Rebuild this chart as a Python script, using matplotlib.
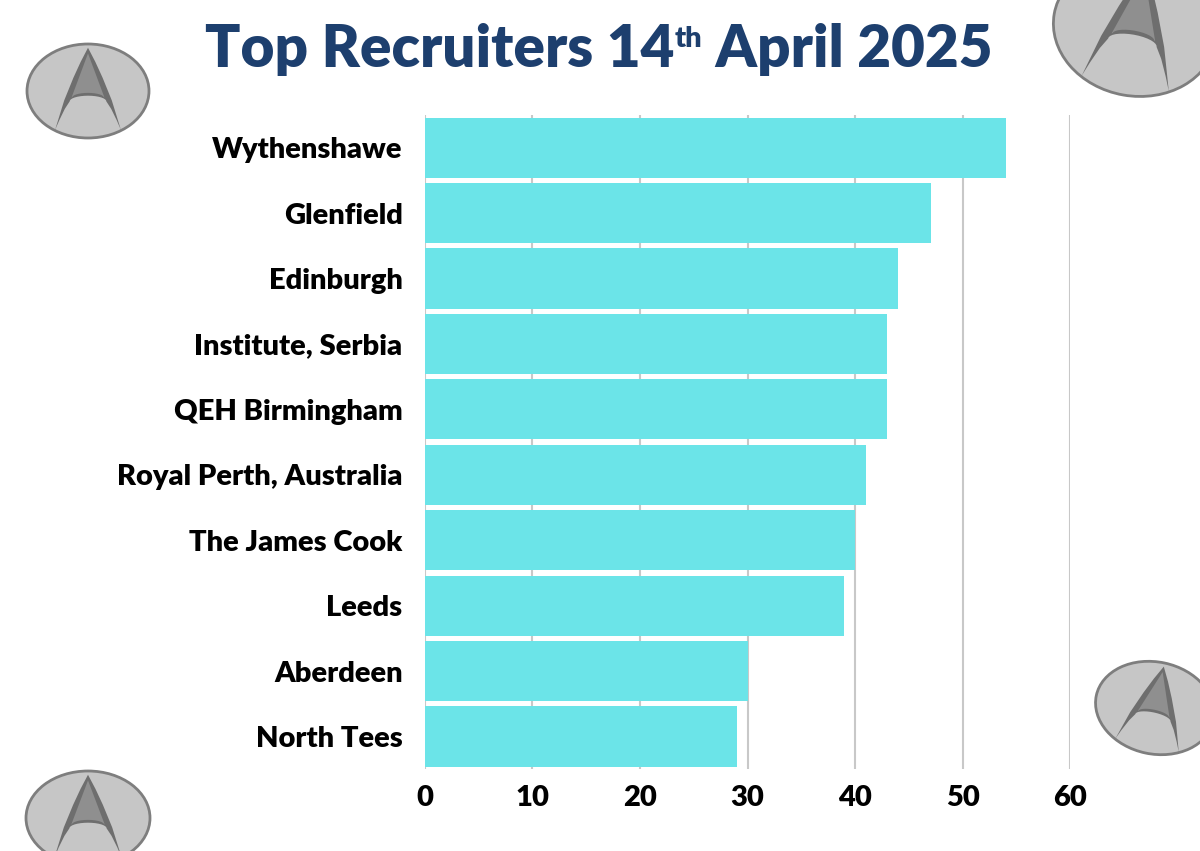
import matplotlib.pyplot as plt
from matplotlib.patches import Ellipse, Polygon
import numpy as np

# data, top to bottom as in the picture
sites = ['Wythenshawe', 'Glenfield', 'Edinburgh', 'Institute, Serbia', 'QEH Birmingham',
         'Royal Perth, Australia', 'The James Cook', 'Leeds', 'Aberdeen', 'North Tees']
recruits = [54, 47, 44, 43, 43, 41, 40, 39, 30, 29]
x_ticks = [0, 10, 20, 30, 40, 50, 60]

BAR = '#6BE4E8'
TITLE = '#1D3F6E'
FONT = 'Lato'


def draw_logo(ax, cx, cy, a, b, angle=0.0):
    """
    Gray ellipse with a stylised 'A', drawn in pixel coordinates (y down)

    """
    t = np.deg2rad(angle)
    rot = np.array([[np.cos(t), -np.sin(t)], [np.sin(t), np.cos(t)]])

    def to_px(pts):
        pts = np.asarray(pts, dtype=float)
        d = np.column_stack([pts[:, 0] * a, -pts[:, 1] * b])
        return d @ rot.T + [cx, cy]

    ax.add_patch(Ellipse((cx, cy), 2 * a, 2 * b, angle=angle, facecolor='#C6C6C6',
                         edgecolor='#7E7E7E', lw=2, clip_on=False))
    # dark A: outer edges, then the inner edges of the legs with the arch between
    right_outer = [(0.0, 0.92), (0.12, 0.62), (0.24, 0.28), (0.39, -0.2), (0.54, -0.83)]
    right_inner = [(0.47, -0.62), (0.38, -0.38), (0.30, -0.22)]
    arch = [(0.30 * np.cos(s), -0.22 + 0.12 * np.sin(s)) for s in np.linspace(0.15, np.pi - 0.15, 15)]
    left_inner = [(-x, y) for x, y in right_inner[::-1]]
    left_outer = [(-x, y) for x, y in right_outer[::-1]][:-1]
    outer = right_outer + right_inner + arch + left_inner + left_outer
    ax.add_patch(Polygon(to_px(outer), closed=True, facecolor='#6E6E6E',
                         edgecolor='none', clip_on=False))
    # lighter triangle in the top of the A
    bottom = [(-0.26 * np.cos(s), -0.14 + 0.10 * np.sin(s)) for s in np.linspace(0.1, np.pi - 0.1, 15)]
    inner = [(0.0, 0.80), (-0.27, -0.14)] + bottom + [(0.27, -0.14)]
    ax.add_patch(Polygon(to_px(inner), closed=True, facecolor='#8F8F8F',
                         edgecolor='none', clip_on=False))


fig = plt.figure(figsize=(12, 8.51), dpi=100)
fig.patch.set_facecolor('white')

ax = fig.add_axes([0.354, 0.096, 0.538, 0.769])
y = np.arange(len(sites))
ax.barh(y, recruits, height=0.92, color=BAR, zorder=3)
ax.set_ylim(len(sites) - 0.5, -0.5)
ax.set_xlim(0, 60)
ax.set_xticks(x_ticks)
ax.set_yticks(y)
ax.set_yticklabels(sites, fontfamily=FONT, fontweight='heavy', fontsize=21)
ax.set_xticklabels([str(v) for v in x_ticks], fontfamily=FONT, fontweight='heavy', fontsize=21)
ax.tick_params(axis='y', length=0, pad=16)
ax.tick_params(axis='x', length=0, pad=11)
ax.grid(axis='x', color='#C8C8C8', lw=1.5, zorder=0)
ax.set_axisbelow(True)
for s in ax.spines.values():
    s.set_visible(False)

# title with superscript "th"
renderer = fig.canvas.get_renderer()
tk = dict(fontfamily=FONT, fontweight='heavy', color=TITLE)
parts = [('Top Recruiters 14', 42, 0), ('th', 21, 20), (' April 2025', 42, 0)]
texts = []
for s, size, dy in parts:
    texts.append((fig.text(0, 0, s, fontsize=size, **tk), dy))
widths = [t.get_window_extent(renderer).width for t, _ in texts]
x0 = (599 - sum(widths) / 2) / 1200
base = 1 - 67 / 851
xpos = x0
for (t, dy), w in zip(texts, widths):
    t.set_position((xpos, base + dy / 851))
    t.set_va('baseline')
    xpos += w / 1200

# logos on an overlay in pixel coordinates
ov = fig.add_axes([0, 0, 1, 1], zorder=-1)
ov.set_xlim(0, 1200)
ov.set_ylim(851, 0)
ov.axis('off')
draw_logo(ov, 88, 91, 61, 47)
draw_logo(ov, 1135, 28, 82, 68, angle=10)
draw_logo(ov, 1155, 708, 60, 46, angle=12)
draw_logo(ov, 88, 818, 62, 47)

fig.savefig('out.png', dpi=100)
